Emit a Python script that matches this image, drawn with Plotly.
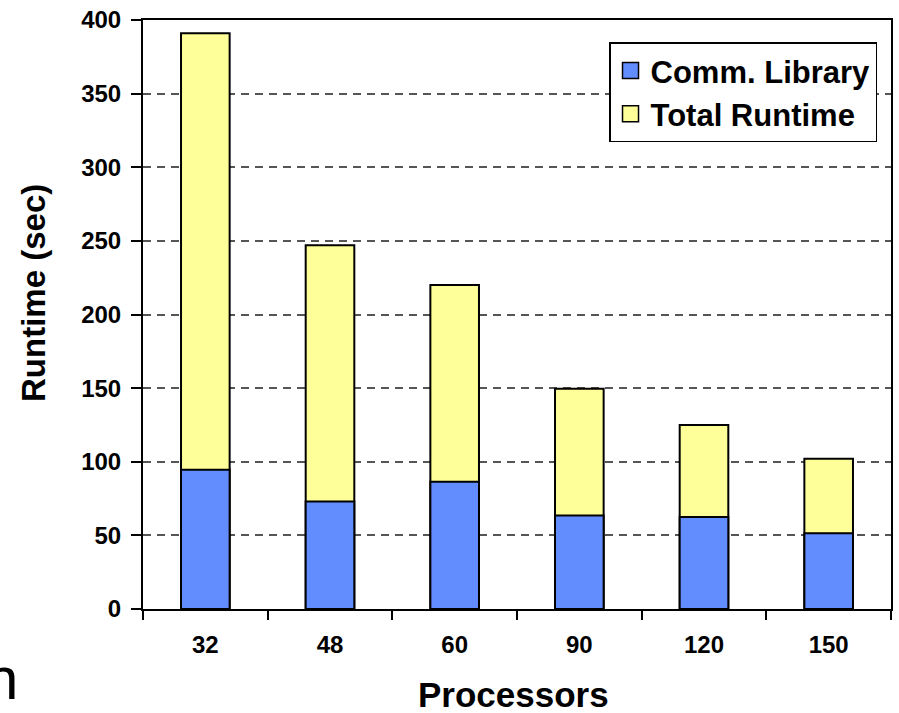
import plotly.graph_objects as go

processors = ["32", "48", "60", "90", "120", "150"]
comm_library = [94.5, 73, 86.5, 63.5, 62.5, 51.5]
total_runtime = [391, 247, 220, 149.5, 125, 102]
y_ticks = [0, 50, 100, 150, 200, 250, 300, 350, 400]

FONT = "Arial, 'Liberation Sans', Helvetica, sans-serif"
BLUE = "#628DFF"
YELLOW = "#FFFF99"

fig = go.Figure()
fig.add_trace(go.Bar(x=processors, y=total_runtime, marker=dict(color=YELLOW, line=dict(color="black", width=2)),
                     showlegend=False))
fig.add_trace(go.Bar(x=processors, y=comm_library, marker=dict(color=BLUE, line=dict(color="black", width=2)),
                     showlegend=False))
# legend entries
fig.add_trace(go.Scatter(x=[None], y=[None], mode="markers", name="Comm. Library",
                         marker=dict(symbol="square", size=16, color=BLUE, line=dict(color="black", width=1.5))))
fig.add_trace(go.Scatter(x=[None], y=[None], mode="markers", name="Total Runtime",
                         marker=dict(symbol="square", size=16, color=YELLOW, line=dict(color="black", width=1.5))))

fig.update_layout(
    width=899, height=713,
    margin=dict(l=143, r=6, t=15, b=104),
    paper_bgcolor="white", plot_bgcolor="white",
    barmode="overlay", bargap=0.61,
    font=dict(family=FONT, color="black"),
    legend=dict(x=0.9813, xanchor="right", y=0.962, yanchor="top",
                bordercolor="black", borderwidth=1.5, bgcolor="white",
                font=dict(size=31, family=FONT, weight="bold"), itemsizing="trace"),
    annotations=[
        dict(text="<b>Runtime (sec)</b>", textangle=-90, xref="paper", yref="paper",
             x=(33 - 143) / 750, y=(609 - 290) / 594, xanchor="center", yanchor="middle",
             showarrow=False, font=dict(size=33, family=FONT)),
        dict(text="<b>Processors</b>", xref="paper", yref="paper",
             x=(514 - 143) / 750, y=(609 - 695) / 594, xanchor="center", yanchor="middle",
             showarrow=False, font=dict(size=35, family=FONT)),
        dict(text="n", xref="paper", yref="paper",
             x=(-17 - 143) / 750, y=(609 - 679) / 594, xanchor="left", yanchor="middle",
             showarrow=False, font=dict(size=60, family=FONT)),
    ],
)
fig.update_xaxes(type="category", showline=True, linecolor="black", linewidth=2, mirror=True,
                 ticks="outside", ticklen=9, tickwidth=2, tickcolor="black", tickson="boundaries",
                 ticklabelstandoff=13,
                 showgrid=False, tickfont=dict(size=24, family=FONT, weight="bold"))
fig.update_yaxes(range=[0, 400], tickvals=y_ticks, showline=True, linecolor="black", linewidth=2, mirror=True,
                 ticks="outside", ticklen=10, tickwidth=2, tickcolor="black", ticklabelstandoff=5,
                 showgrid=True, gridcolor="#555555", gridwidth=1.5, griddash="8px,6px", zeroline=False,
                 tickfont=dict(size=24, family=FONT, weight="bold"))

fig.write_html("out.html")
